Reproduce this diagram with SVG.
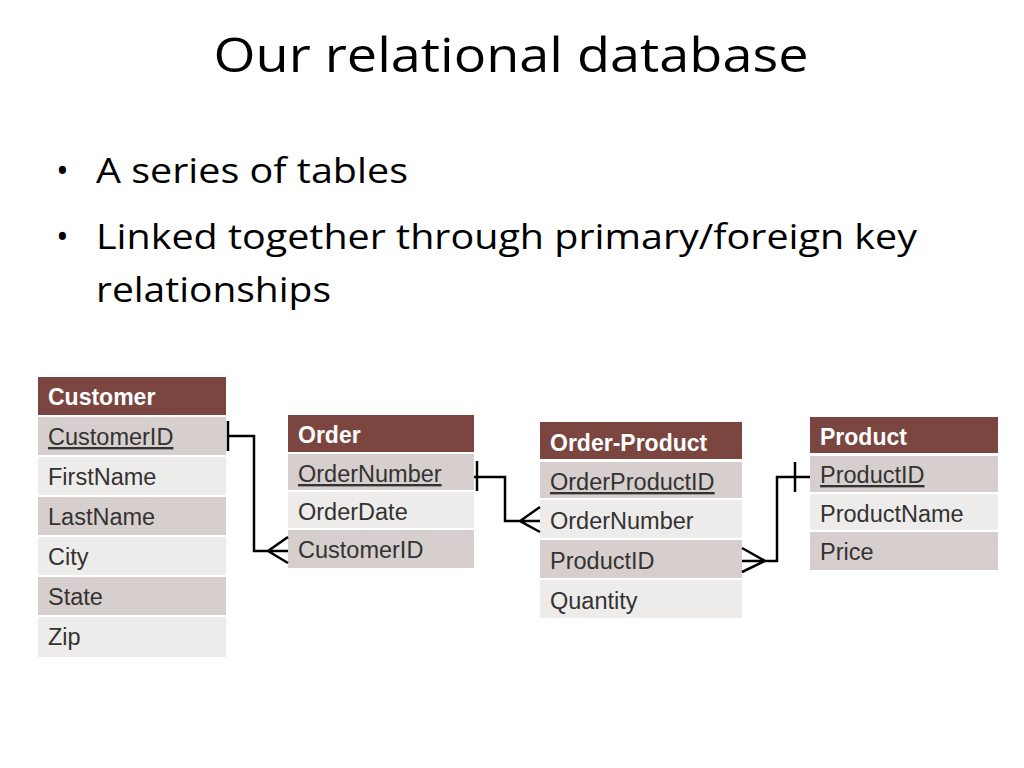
<svg xmlns="http://www.w3.org/2000/svg" width="1024" height="768" viewBox="0 0 1024 768">
<style>
.t{font-family:"Open Sans",Lato,sans-serif;fill:#000}
.h{fill:#7b4540}
.d{fill:#d6cfcd}
.l{fill:#eeeceb}
.ht{font-family:"Liberation Sans",Arial,sans-serif;font-weight:bold;font-size:23px;fill:#fff}
.rt{font-family:"Liberation Sans",Arial,sans-serif;font-size:23.5px;fill:#333}
.c{fill:none;stroke:#000;stroke-width:2.5}
</style>
<rect width="1024" height="768" fill="#fff"/>
<text class="t" x="511" y="72" font-size="48" text-anchor="middle" textLength="595" lengthAdjust="spacingAndGlyphs">Our relational database</text>
<g class="t" font-size="34">
<text x="56" y="183">•</text><text x="96" y="183" textLength="312" lengthAdjust="spacingAndGlyphs">A series of tables</text>
<text x="56" y="249">•</text><text x="96" y="249" textLength="821" lengthAdjust="spacingAndGlyphs">Linked together through primary/foreign key</text>
<text x="96" y="302" textLength="235" lengthAdjust="spacingAndGlyphs">relationships</text>
</g>
<g id="customer">
<rect class="h" x="38" y="377" width="188" height="38"/><text class="ht" x="48" y="405">Customer</text>
<rect class="d" x="38" y="417" width="188" height="38"/><text class="rt" x="48" y="445" text-decoration="underline">CustomerID</text>
<rect class="l" x="38" y="457" width="188" height="38"/><text class="rt" x="48" y="485">FirstName</text>
<rect class="d" x="38" y="497" width="188" height="38"/><text class="rt" x="48" y="525">LastName</text>
<rect class="l" x="38" y="537" width="188" height="38"/><text class="rt" x="48" y="565">City</text>
<rect class="d" x="38" y="577" width="188" height="38"/><text class="rt" x="48" y="605">State</text>
<rect class="l" x="38" y="617" width="188" height="40"/><text class="rt" x="48" y="645">Zip</text>
</g>
<g id="order">
<rect class="h" x="288" y="415" width="186" height="37"/><text class="ht" x="298" y="443">Order</text>
<rect class="d" x="288" y="454" width="186" height="36"/><text class="rt" x="298" y="482" text-decoration="underline">OrderNumber</text>
<rect class="l" x="288" y="492" width="186" height="36"/><text class="rt" x="298" y="520">OrderDate</text>
<rect class="d" x="288" y="530" width="186" height="38"/><text class="rt" x="298" y="558">CustomerID</text>
</g>
<g id="order-product">
<rect class="h" x="540" y="422" width="202" height="37"/><text class="ht" x="550" y="451">Order-Product</text>
<rect class="d" x="540" y="462" width="202" height="36"/><text class="rt" x="550" y="490" text-decoration="underline">OrderProductID</text>
<rect class="l" x="540" y="500" width="202" height="38"/><text class="rt" x="550" y="529">OrderNumber</text>
<rect class="d" x="540" y="540" width="202" height="38"/><text class="rt" x="550" y="569">ProductID</text>
<rect class="l" x="540" y="580" width="202" height="38"/><text class="rt" x="550" y="609">Quantity</text>
</g>
<g id="product">
<rect class="h" x="810" y="417" width="188" height="36"/><text class="ht" x="820" y="445">Product</text>
<rect class="d" x="810" y="456" width="188" height="36"/><text class="rt" x="820" y="483" text-decoration="underline">ProductID</text>
<rect class="l" x="810" y="494" width="188" height="36"/><text class="rt" x="820" y="522">ProductName</text>
<rect class="d" x="810" y="532" width="188" height="38"/><text class="rt" x="820" y="560">Price</text>
</g>
<g id="connectors">
<path class="c" d="M228 436 H254 V551 H288 M228 421 V451 M288 537 L268 551 L288 563"/>
<path class="c" d="M474 477 H505 V521 H540 M477 461 V491 M540 507 L520 521 L540 532"/>
<path class="c" d="M742 561 H777 V477 H810 M795 462 V492 M742 548 L765 561 L742 572"/>
</g>
</svg>
